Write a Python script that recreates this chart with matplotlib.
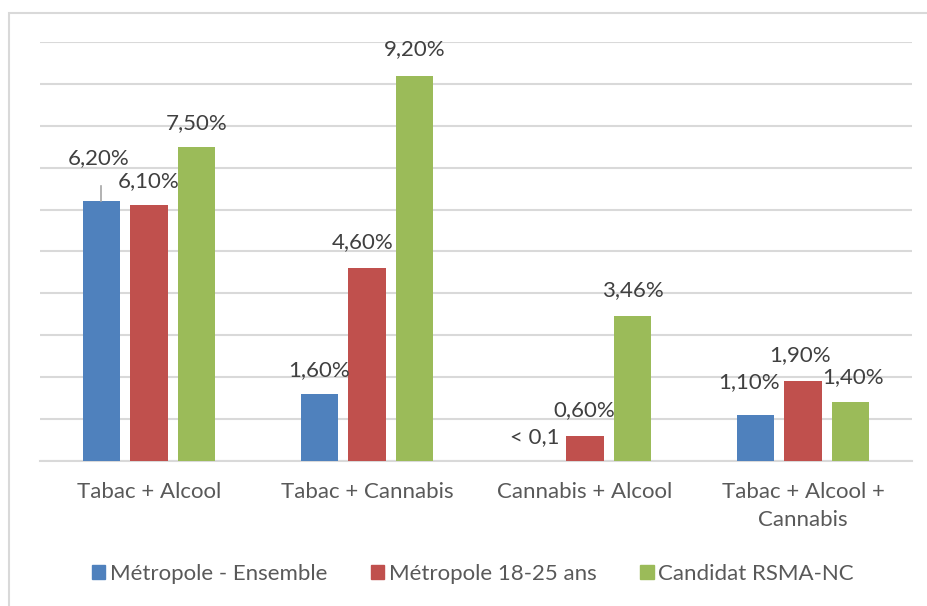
import numpy as np
import matplotlib.pyplot as plt
from matplotlib.patches import Rectangle, Patch

categories = ['Tabac + Alcool', 'Tabac + Cannabis', 'Cannabis + Alcool', 'Tabac + Alcool +\nCannabis']
series_names = ['Métropole - Ensemble', 'Métropole 18-25 ans', 'Candidat RSMA-NC']
metro_all = [6.2, 1.6, 0.0, 1.1]
metro_young = [6.1, 4.6, 0.6, 1.9]
rsma = [7.5, 9.2, 3.46, 1.4]
labels_all = ['6,20%', '1,60%', '< 0,1', '1,10%']
labels_young = ['6,10%', '4,60%', '0,60%', '1,90%']
labels_rsma = ['7,50%', '9,20%', '3,46%', '1,40%']

colors = ['#4F81BD', '#C0504D', '#9BBB59']
text_col = '#595959'
grid_col = '#D9D9D9'
fs = 16

plt.rcParams['font.family'] = ['Lato', 'DejaVu Sans']

fig = plt.figure(figsize=(9.28, 6.06), dpi=100)
ax = fig.add_axes([40 / 928, 1 - 461 / 606, 872 / 928, 419 / 606])

x = np.arange(len(categories))
width = 0.17
step = 0.22
values = [metro_all, metro_young, rsma]
all_labels = [labels_all, labels_young, labels_rsma]

# label offsets in pixels (label centre relative to bar top centre), as Excel placed them
offsets = [
    [(-2, 43), (0, 24), (-2, 24), (-6, 33)],
    [(0, 24), (-4, 26), (-1, 26), (-3, 26)],
    [(0, 24), (0, 26), (0, 26), (2, 25)],
]

for j in range(3):
    pos = x + (j - 1) * step
    ax.bar(pos, values[j], width, color=colors[j], zorder=3)
    for i in range(len(categories)):
        dx, dy = offsets[j][i]
        ax.annotate(all_labels[j][i], (pos[i], values[j][i]), xytext=(dx, dy),
                    textcoords='offset pixels', ha='center', va='center',
                    fontsize=fs, color='#404040', zorder=4)

# leader line for the displaced 6,20% label
ax.plot([x[0] - step, x[0] - step], [metro_all[0], metro_all[0] + 15 / 41.9],
        color='#A6A6A6', lw=1.2, zorder=4)

ax.set_xlim(-0.5, len(categories) - 0.5)
ax.set_ylim(0, 10)
ax.set_yticks(np.arange(0, 11, 1))
ax.yaxis.grid(True, color=grid_col, lw=1.5, zorder=0)
ax.set_yticklabels([])
ax.tick_params(axis='y', length=0)
ax.set_xticks(x)
ax.set_xticklabels(categories, fontsize=fs, color=text_col, linespacing=1.5)
ax.tick_params(axis='x', length=0, pad=15)
for s in ['left', 'right', 'top']:
    ax.spines[s].set_visible(False)
ax.spines['bottom'].set_color(grid_col)
ax.spines['bottom'].set_linewidth(1.5)

handles = [Patch(color=c) for c in colors]
fig.legend(handles, series_names, loc='center', bbox_to_anchor=(473 / 928, 1 - 574 / 606),
           ncol=3, frameon=False, fontsize=fs, labelcolor=text_col,
           handlelength=0.6, handleheight=0.6, handletextpad=0.22, columnspacing=1.95)

fig.patches.append(Rectangle((9 / 928, -0.1), 1.2, 1 - 13 / 606 + 0.1, transform=fig.transFigure,
                             fill=False, edgecolor=grid_col, lw=1.5))

fig.savefig('out.png', dpi=100)
